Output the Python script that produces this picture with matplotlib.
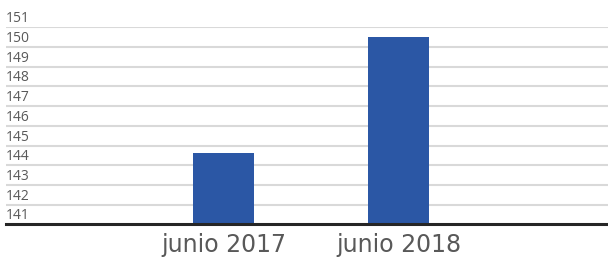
import numpy as np
import matplotlib.pyplot as plt

# data
categories = ["junio 2017", "junio 2018"]
values = [144.62, 150.5]
y_ticks = list(range(141, 152))

bar_color = "#2b57a5"
text_color = "#595959"

fig = plt.figure(figsize=(6.08, 2.59), dpi=100)
ax = fig.add_axes([6 / 608, 1 - 224.3 / 259, 1 - 6 / 608, (224.3 - 27.3) / 259])

x = np.arange(len(categories))
ax.bar(x, np.array(values) - 141, bottom=141, width=0.35, color=bar_color, zorder=3)

ax.set_ylim(141, 151)
ax.set_xlim(-1.243, 2.197)

#  gridlines + labels sitting above them
for v in y_ticks:
    if v > 141:
        ax.axhline(v, color="#d9d9d9", lw=1.5, zorder=1)
    ax.text(0.0, v + 0.05, str(v), transform=ax.get_yaxis_transform(),
            ha="left", va="bottom", fontsize=10, color=text_color,
            family="Open Sans", zorder=4)

ax.set_yticks([])
ax.set_xticks(x)
ax.set_xticklabels(categories, fontsize=17, color=text_color, family="DejaVu Sans")
ax.tick_params(axis="x", length=0, pad=6)

for side in ["top", "right", "left"]:
    ax.spines[side].set_visible(False)
ax.spines["bottom"].set_color("#262626")
ax.spines["bottom"].set_linewidth(2.2)
ax.spines["bottom"].set_zorder(5)

fig.savefig("out.png", dpi=100)
